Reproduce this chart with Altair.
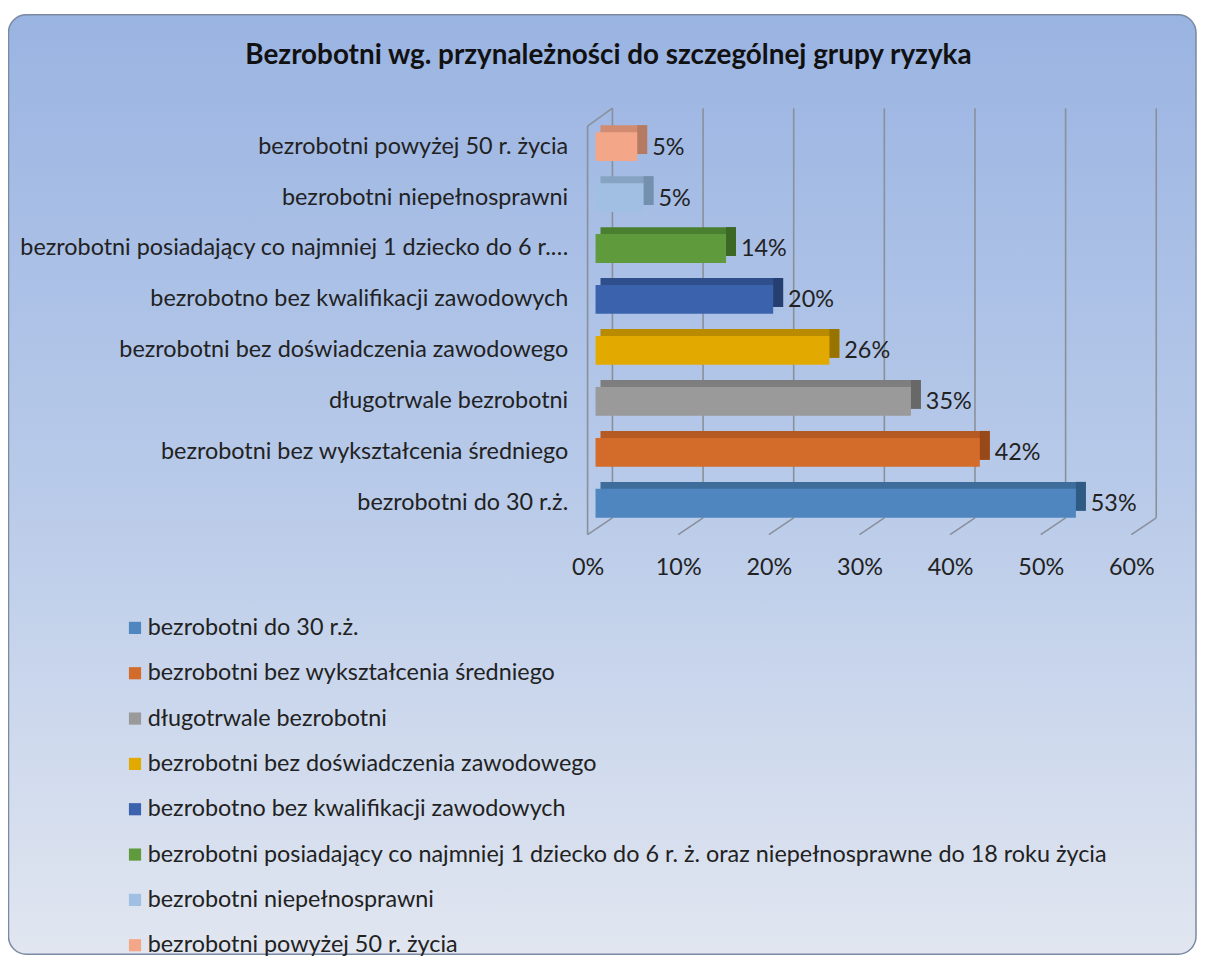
import altair as alt
import pandas as pd

title_text = "Bezrobotni wg. przynależności do szczególnej grupy ryzyka"

categories = [
    "bezrobotni do 30 r.ż.",
    "bezrobotni bez wykształcenia średniego",
    "długotrwale bezrobotni",
    "bezrobotni bez doświadczenia zawodowego",
    "bezrobotno bez kwalifikacji zawodowych",
    "bezrobotni posiadający co najmniej 1 dziecko do 6 r. ż. oraz niepełnosprawne do 18 roku życia",
    "bezrobotni niepełnosprawni",
    "bezrobotni powyżej 50 r. życia",
]
axis_labels = [
    "bezrobotni do 30 r.ż.",
    "bezrobotni bez wykształcenia średniego",
    "długotrwale bezrobotni",
    "bezrobotni bez doświadczenia zawodowego",
    "bezrobotno bez kwalifikacji zawodowych",
    "bezrobotni posiadający co najmniej 1 dziecko do 6 r.…",
    "bezrobotni niepełnosprawni",
    "bezrobotni powyżej 50 r. życia",
]
values = [0.530, 0.424, 0.348, 0.258, 0.196, 0.144, 0.053, 0.046]
ticks = [0.0, 0.1, 0.2, 0.3, 0.4, 0.5, 0.6]

front_colors = ["#4f86bf", "#d36b2a", "#9a9a9a", "#e2aa00", "#3b63ad", "#5f9b3d", "#a0bfe2", "#f3a688"]
top_colors = ["#3e6d9c", "#b55a22", "#7e7e7e", "#b98b00", "#2e4f8c", "#4b7f30", "#86a3c3", "#d08b70"]
side_colors = ["#2e5a84", "#97491a", "#686868", "#987300", "#243f70", "#3c6826", "#7390ae", "#b47a62"]

FONT = "Lato"
TXT = "#222222"
FS = 23.5

df = pd.DataFrame({"category": categories, "label": axis_labels, "value": values})
tick_df = pd.DataFrame({"tick": ticks})

xscale = alt.Scale(domain=[0, 0.6], nice=False, zero=True)
y_order = list(reversed(axis_labels))
yscale = alt.Scale(paddingInner=0.434, paddingOuter=0.217)

x_axis = alt.Axis(
    values=ticks, format=".0%", title=None, domain=False, ticks=False, tickSize=0,
    grid=False, labelPadding=27, labelOffset=-8, labelFlush=False, zindex=2,
    labelFontSize=FS, labelFont=FONT, labelColor=TXT,
)
y_axis = alt.Axis(
    title=None, domain=False, ticks=False, tickSize=0, grid=False, zindex=2,
    labelPadding=28, labelLimit=800, labelFontSize=FS, labelFont=FONT, labelColor=TXT,
)

bg = alt.Chart(pd.DataFrame({"k": [0]})).mark_rect(
    fill={
        "gradient": "linear", "x1": 0, "y1": 0, "x2": 0, "y2": 1,
        "stops": [
            {"offset": 0, "color": "#9ab4e2"},
            {"offset": 0.5, "color": "#b8cae9"},
            {"offset": 1, "color": "#e1e6f0"},
        ],
    },
    stroke="#7b8aa3", strokeWidth=1.5, cornerRadius=18,
).encode(x=alt.value(-590.5), x2=alt.value(604), y=alt.value(-107), y2=alt.value(838))

grid = alt.Chart(tick_df).mark_rule(xOffset=17, color="#8a9099", strokeWidth=1.6).encode(
    x=alt.X("tick:Q", scale=xscale, axis=x_axis), y=alt.value(-13), y2=alt.value(399)
)
floor = alt.Chart(tick_df).mark_rule(xOffset=17, x2Offset=-8, color="#8a9099", strokeWidth=1.6).encode(
    x=alt.X("tick:Q", scale=xscale, axis=x_axis), x2=alt.X2("tick"), y=alt.value(399), y2=alt.value(416)
)
wall_v = alt.Chart(tick_df).transform_filter("datum.tick == 0").mark_rule(
    xOffset=-8, color="#8a9099", strokeWidth=1.6
).encode(x=alt.X("tick:Q", scale=xscale, axis=x_axis), y=alt.value(5), y2=alt.value(416))
wall_d = alt.Chart(tick_df).transform_filter("datum.tick == 0").mark_rule(
    xOffset=-8, x2Offset=17, color="#8a9099", strokeWidth=1.6
).encode(x=alt.X("tick:Q", scale=xscale, axis=x_axis), x2=alt.X2("tick"), y=alt.value(5), y2=alt.value(-13))

top_face = alt.Chart(df).transform_calculate(zero="0").mark_bar(
    xOffset=10, x2Offset=5, yOffset=-7, y2Offset=-7
).encode(
    x=alt.X("value:Q", scale=xscale, axis=x_axis),
    x2=alt.X2("zero:Q"),
    y=alt.Y("label:N", sort=y_order, scale=yscale, axis=y_axis),
    color=alt.Color("category:N", scale=alt.Scale(domain=categories, range=top_colors), legend=None),
)

side_face = alt.Chart(df).mark_bar(xOffset=0, x2Offset=10, yOffset=-7, y2Offset=-7).encode(
    x=alt.X("value:Q", scale=xscale, axis=x_axis),
    x2=alt.X2("value"),
    y=alt.Y("label:N", sort=y_order, scale=yscale, axis=y_axis),
    color=alt.Color("category:N", scale=alt.Scale(domain=categories, range=side_colors), legend=None),
)

front = alt.Chart(df).mark_bar().encode(
    x=alt.X("value:Q", scale=xscale, axis=x_axis),
    y=alt.Y("label:N", sort=y_order, scale=yscale, axis=y_axis),
    color=alt.Color(
        "category:N",
        scale=alt.Scale(domain=categories, range=front_colors),
        legend=alt.Legend(
            orient="none", legendX=-475, legendY=498, title=None, direction="vertical",
            symbolType="square", symbolSize=150, symbolStrokeWidth=0,
            labelFontSize=FS, labelFont=FONT, labelColor=TXT, labelLimit=1200,
            rowPadding=20.6, labelOffset=1,
        ),
    ),
)

labels = alt.Chart(df).mark_text(
    align="left", baseline="middle", dx=15, dy=1, fontSize=FS, font=FONT, color=TXT
).encode(
    x=alt.X("value:Q", scale=xscale, axis=x_axis),
    y=alt.Y("label:N", sort=y_order, scale=yscale, axis=y_axis),
    text=alt.Text("value:Q", format=".0%"),
)

title = alt.Chart(pd.DataFrame({"t": [title_text]})).mark_text(
    align="center", baseline="middle", fontSize=28, fontWeight="bold", font=FONT, color="#111111"
).encode(x=alt.value(13), y=alt.value(-65), text="t:N")

chart = alt.layer(
    bg, grid, floor, wall_v, wall_d, top_face, side_face, front, labels, title
).resolve_scale(color="independent").properties(
    width=547, height=410,
    autosize=alt.AutoSizeParams(type="none"),
    padding={"left": 591, "top": 111, "right": 58, "bottom": 429},
    background="white",
).configure_view(stroke=None)

chart.save("out.html", embed_options={"renderer": "svg", "actions": False})
